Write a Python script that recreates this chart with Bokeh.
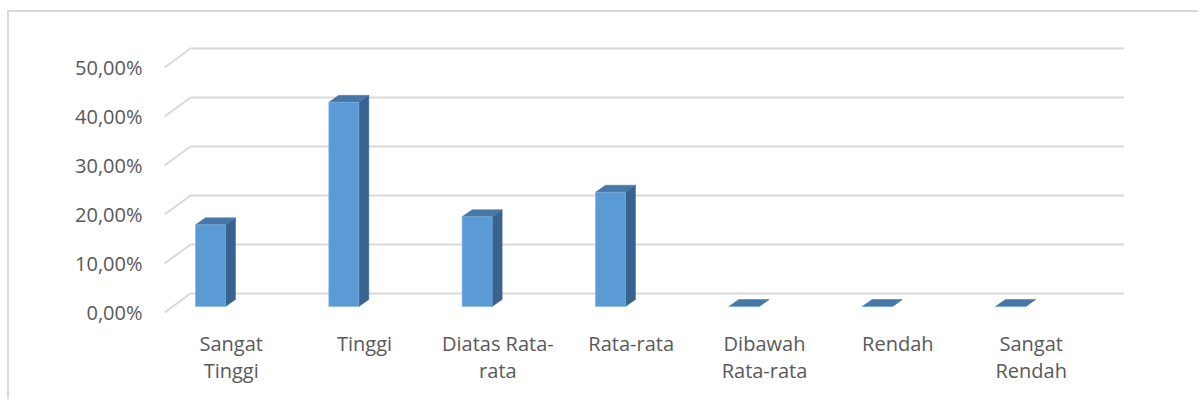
from bokeh.plotting import figure
from bokeh.models import Range1d, FixedTicker
from bokeh.embed import file_html
from bokeh.resources import INLINE

# Distribution of respondents per category (percent)
categories = ["Sangat\nTinggi", "Tinggi", "Diatas Rata-\nrata", "Rata-rata",
              "Dibawah\nRata-rata", "Rendah", "Sangat\nRendah"]
percentages = [16.67, 41.67, 18.33, 23.33, 0.0, 0.0, 0.0]
y_ticks = [0, 10, 20, 30, 40, 50]
y_tick_labels = ["0,00%", "10,00%", "20,00%", "30,00%", "40,00%", "50,00%"]

# pseudo-3D geometry (in axis units)
BACK_DX, BACK_DY = 0.195, 3.88      # shift from front plane to back wall
BAR_LEFT, BAR_RIGHT = -0.268, -0.043  # front face relative to category centre
BAR_BASE = 1.22                      # front face sits slightly behind front edge
SIDE_DX, SIDE_DY = 0.075, 1.43       # bar depth

FRONT = "#5B9BD5"
TOP = "#4677A6"
SIDE = "#386391"
GRID = "#D9D9D9"
TEXT = "#595959"
FONT = "Open Sans"

n = len(categories)
xs = list(range(n))

p = figure(width=1191, height=389, output_backend="svg", toolbar_location=None,
           x_range=Range1d(-0.6053, 7.270), y_range=Range1d(-2.653, 61.224),
           min_border_left=141, min_border_right=0, min_border_top=0,
           min_border_bottom=76)
p.background_fill_color = "white"
p.border_fill_color = "white"
p.outline_line_color = None
p.xgrid.visible = False
p.ygrid.visible = False
# chart area frame (left and top edges visible)
p.styles = {"margin-left": "7px", "margin-top": "10px",
            "border-left": "2px solid #D9D9D9", "border-top": "2px solid #D9D9D9"}

# back wall gridlines with their receding floor edge
grid_x, grid_y = [], []
for t in y_ticks:
    grid_x.append([-0.5, -0.5 + BACK_DX, n - 0.5 + BACK_DX])
    grid_y.append([t, t + BACK_DY, t + BACK_DY])
p.multi_line(grid_x, grid_y, line_color=GRID, line_width=2)

# bars: front face, side face, top face
left = [x + BAR_LEFT for x in xs]
right = [x + BAR_RIGHT for x in xs]
bottom = [BAR_BASE for _ in xs]
top = [BAR_BASE + v for v in percentages]

side_x = [[r, r + SIDE_DX, r + SIDE_DX, r] for r in right]
side_y = [[b, b + SIDE_DY, tp + SIDE_DY, tp] for b, tp in zip(bottom, top)]
p.patches(side_x, side_y, fill_color=SIDE, line_color=SIDE, line_width=0.5)

top_x = [[l, r, r + SIDE_DX, l + SIDE_DX] for l, r in zip(left, right)]
top_y = [[tp, tp, tp + SIDE_DY, tp + SIDE_DY] for tp in top]
p.patches(top_x, top_y, fill_color=TOP, line_color=TOP, line_width=0.5)

p.quad(left=left, right=right, bottom=bottom, top=top,
       fill_color=FRONT, line_color="#7FB2E0", line_width=0.6)

# axes
p.yaxis.ticker = FixedTicker(ticks=y_ticks)
p.yaxis.major_label_overrides = {t: s for t, s in zip(y_ticks, y_tick_labels)}
p.xaxis.ticker = FixedTicker(ticks=xs)
p.xaxis.major_label_overrides = {x: c for x, c in zip(xs, categories)}
for ax in (p.xaxis, p.yaxis):
    ax.axis_line_color = None
    ax.major_tick_line_color = None
    ax.minor_tick_line_color = None
    ax.major_tick_out = 0
    ax.major_tick_in = 0
    ax.major_label_text_font = FONT
    ax.major_label_text_font_size = "20px"
    ax.major_label_text_color = TEXT
    ax.major_label_text_line_height = 1.0
p.yaxis.major_label_standoff = 8
p.xaxis.major_label_standoff = 4

open("out.html", "w").write(file_html(p, INLINE))
